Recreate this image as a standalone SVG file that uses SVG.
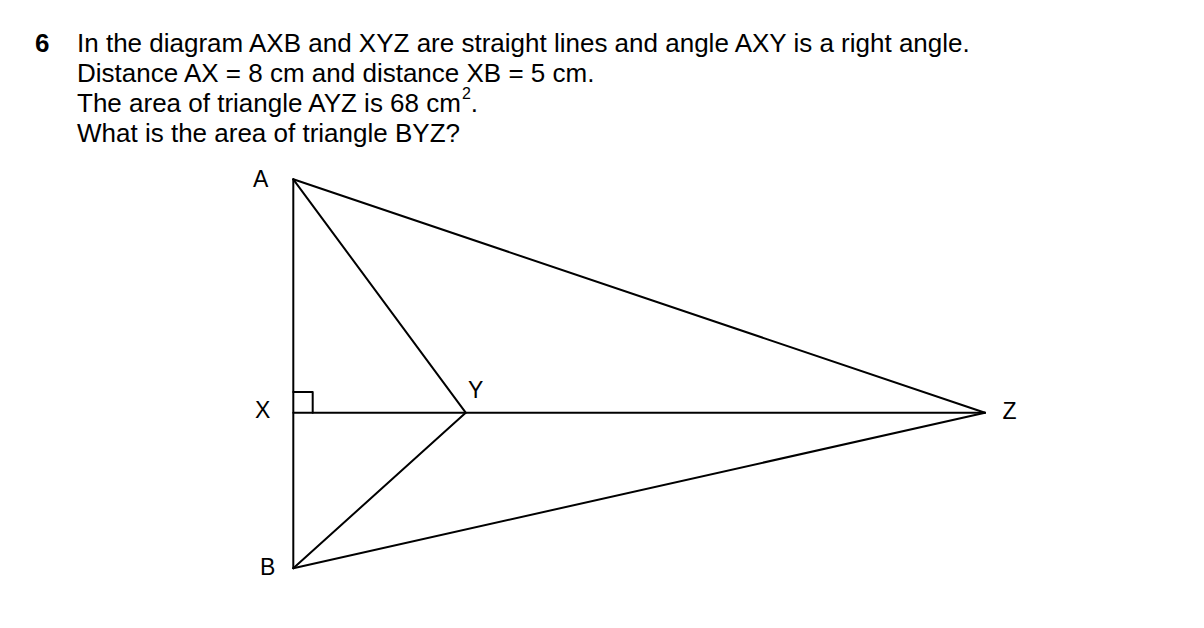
<svg xmlns="http://www.w3.org/2000/svg" width="1204" height="628" viewBox="0 0 1204 628">
<style>
.t{font-family:"Liberation Sans",Arial,sans-serif;font-size:26px;fill:#000}
.b{font-weight:bold}
.lbl{font-family:"Liberation Sans",Arial,sans-serif;font-size:23px;fill:#000}
.ln{stroke:#000;stroke-width:2;fill:none;stroke-linecap:round;stroke-linejoin:round}
</style>
<rect width="1204" height="628" fill="#fff"/>
<g id="question">
<text class="t b" x="35" y="52.3">6</text>
<text class="t" x="77" y="52.3">In the diagram AXB and XYZ are straight lines and angle AXY is a right angle.</text>
<text class="t" x="77" y="82.3">Distance AX = 8 cm and distance XB = 5 cm.</text>
<text class="t" x="77" y="112.3">The area of triangle AYZ is 68 cm<tspan font-size="16" dx="1" dy="-13">2</tspan><tspan dy="13">.</tspan></text>
<text class="t" x="77" y="142.3">What is the area of triangle BYZ?</text>
</g>
<g id="connectors">
<line class="ln" x1="293.3" y1="179.3" x2="293.3" y2="568.3"/>
<line class="ln" x1="293.3" y1="412.7" x2="985" y2="412.7"/>
<line class="ln" x1="293.3" y1="179.3" x2="465.7" y2="412.7"/>
<line class="ln" x1="293.3" y1="568.3" x2="465.7" y2="412.7"/>
<line class="ln" x1="293.3" y1="179.3" x2="985" y2="412.7"/>
<line class="ln" x1="293.3" y1="568.3" x2="985" y2="412.7"/>
<polyline class="ln" points="293.3,392 312.7,392 312.7,412.7"/>
</g>
<g id="A"><text class="lbl" x="253" y="187">A</text></g>
<g id="X"><text class="lbl" x="255" y="418.3">X</text></g>
<g id="Y"><text class="lbl" x="468" y="398">Y</text></g>
<g id="Z"><text class="lbl" x="1002.5" y="419">Z</text></g>
<g id="B"><text class="lbl" x="260" y="575">B</text></g>
</svg>
